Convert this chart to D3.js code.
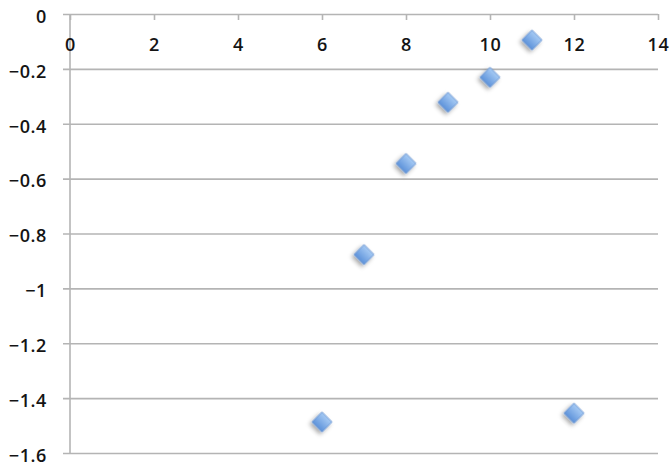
<!DOCTYPE html>
<html>
<head>
<meta charset="utf-8">
<script src="https://cdn.jsdelivr.net/npm/d3@7"></script>
<style>
  html, body { margin: 0; padding: 0; background: #fff; }
  svg { display: block; }
  .axis text { font-family: "Open Sans", "Liberation Sans", Arial, sans-serif; font-size: 18px; font-weight: 600; letter-spacing: 0.6px; fill: #141414; }
</style>
</head>
<body>
<svg id="chart" width="671" height="466"></svg>
<script>
// Scatter series
const xValues = [6, 7, 8, 9, 10, 11, 12];
const yValues = [-1.487, -0.877, -0.545, -0.322, -0.231, -0.095, -1.455];

// Axis ticks
const xTicks = [0, 2, 4, 6, 8, 10, 12, 14];
const yTicks = [0, -0.2, -0.4, -0.6, -0.8, -1, -1.2, -1.4, -1.6];

const svg = d3.select("#chart");
const plotLeft = 70, plotRight = 658, plotTop = 14, plotBottom = 453;

const x = d3.scaleLinear().domain([0, 14]).range([plotLeft, plotRight]);
const y = d3.scaleLinear().domain([-1.6, 0]).range([plotBottom, plotTop]);

const gridColor = "#b4b4b4";

// Marker gradient and soft shadow
const defs = svg.append("defs");
const grad = defs.append("linearGradient")
  .attr("id", "markerFill").attr("x1", 0).attr("y1", 0).attr("x2", 0).attr("y2", 1);
grad.append("stop").attr("offset", "0%").attr("stop-color", "#a7cbf4");
grad.append("stop").attr("offset", "100%").attr("stop-color", "#5d92da");
const shadow = defs.append("filter").attr("id", "markerShadow")
  .attr("x", "-50%").attr("y", "-50%").attr("width", "200%").attr("height", "200%");
shadow.append("feDropShadow").attr("dx", 0).attr("dy", 3).attr("stdDeviation", 2)
  .attr("flood-color", "#000").attr("flood-opacity", 0.35);

// Y axis with horizontal gridlines
const yAxis = svg.append("g").attr("class", "axis")
  .attr("transform", `translate(${plotLeft},0)`)
  .call(d3.axisLeft(y).tickValues(yTicks).tickFormat(d => d3.format("")(+d.toFixed(1)))
    .tickSizeOuter(0).tickSizeInner(7).tickPadding(16));
yAxis.select(".domain").remove();
yAxis.selectAll(".tick line").attr("x1", -7).attr("x2", plotRight - plotLeft)
  .attr("stroke", gridColor).attr("stroke-width", 1.6);
yAxis.selectAll(".tick text").attr("dy", "0.46em");

// Vertical axis line
svg.append("line")
  .attr("x1", plotLeft).attr("x2", plotLeft).attr("y1", plotTop).attr("y2", plotBottom)
  .attr("stroke", gridColor).attr("stroke-width", 1.6);

// X axis along y = 0
const xAxis = svg.append("g").attr("class", "axis")
  .attr("transform", `translate(0,${y(0)})`)
  .call(d3.axisBottom(x).tickValues(xTicks).tickFormat(d3.format("d"))
    .tickSizeOuter(0).tickSizeInner(6).tickPadding(18));
xAxis.select(".domain").remove();
xAxis.selectAll(".tick line").attr("stroke", gridColor).attr("stroke-width", 1.6);

// Diamond markers
const diamond = d3.symbol().type(d3.symbolSquare).size(200);
svg.append("g").selectAll("path")
  .data(xValues.map((v, i) => [v, yValues[i]]))
  .join("path")
  .attr("d", diamond)
  .attr("transform", d => `translate(${x(d[0])},${y(d[1])}) rotate(45)`)
  .attr("fill", "url(#markerFill)")
  .attr("stroke", "#6f98d2")
  .attr("stroke-width", 0.8)
  .attr("filter", "url(#markerShadow)");
</script>
</body>
</html>
